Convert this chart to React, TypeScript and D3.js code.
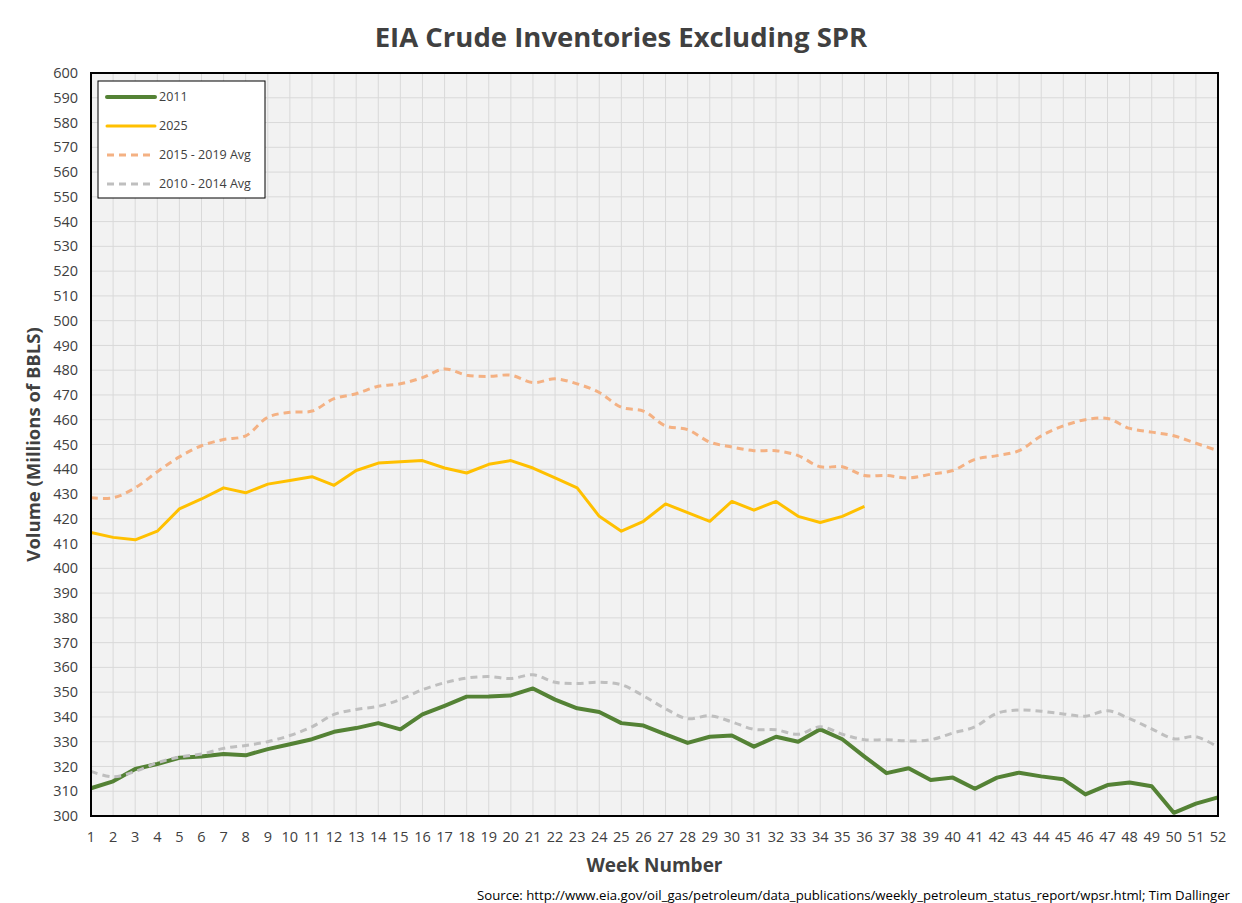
import React from "react";
import * as d3 from "d3";

const weeks = d3.range(1, 53);

const y2011 = [
  311.2, 314, 319, 321, 323.5, 324, 325, 324.5, 327, 329, 331, 334, 335.5, 337.5, 335, 341,
  344.5, 348.2, 348.3, 348.7, 351.5, 347, 343.5, 342, 337.5, 336.5, 333, 329.5, 332, 332.5,
  328, 332, 330, 335, 331, 324, 317.3, 319.3, 314.5, 315.5, 311, 315.5, 317.5, 316, 314.8,
  308.7, 312.5, 313.5, 312, 301.3, 305, 307.5,
];

const y2025 = [
  414.5, 412.5, 411.5, 415, 424, 428, 432.5, 430.5, 434, 435.5, 437, 433.5, 439.5, 442.5,
  443, 443.5, 440.5, 438.5, 442, 443.5, 440.5, 436.5, 432.5, 421, 415, 419, 426, 422.5, 419,
  427, 423.5, 427, 421, 418.5, 421, 425,
];

const avg1519 = [
  428.5, 428.5, 432.5, 439, 445, 449.5, 452, 453.5, 461, 463, 463.5, 468.5, 470.5, 473.5,
  474.5, 477, 480.5, 478, 477.5, 478, 475, 476.5, 474.5, 471, 465, 463.5, 457.5, 456, 451,
  449, 447.5, 447.5, 445.5, 441, 441, 437.5, 437.5, 436.5, 438, 439.5, 444, 445.5, 447.5,
  453.5, 457.5, 460, 460.5, 456.5, 455, 453.5, 450.5, 447.5,
];

const avg1014 = [
  318, 315.8, 318, 321.5, 323.8, 325, 327.3, 328.5, 330, 332.5, 336, 341, 343, 344.3, 347,
  351, 353.8, 355.7, 356.3, 355.5, 357, 354, 353.5, 354, 353, 348.5, 343.3, 339.3, 340.5,
  338, 335, 334.8, 333, 336, 333, 330.8, 330.8, 330.3, 330.8, 333.5, 336, 341.5, 342.8,
  342.3, 341.2, 340.3, 342.5, 339.3, 335.2, 331.2, 332, 327.8,
];

const yTicks = d3.range(300, 601, 10);

const series = [
  { name: "2011", data: y2011, color: "#548235", width: 4, dash: "", smooth: false },
  { name: "2025", data: y2025, color: "#ffc000", width: 3, dash: "", smooth: false },
  { name: "2015 - 2019 Avg", data: avg1519, color: "#f4b183", width: 3, dash: "7,5", smooth: true },
  { name: "2010 - 2014 Avg", data: avg1014, color: "#bfbfbf", width: 3, dash: "7,5", smooth: true },
];

const W = 1242;
const H = 903;
const margin = { left: 91, right: 24, top: 73, bottom: 87 };
const font = "'Open Sans', 'Liberation Sans', sans-serif";
const textColor = "#404040";

export default function App() {
  const x = d3.scaleLinear().domain([1, 52]).range([margin.left, W - margin.right]);
  const y = d3.scaleLinear().domain([300, 600]).range([H - margin.bottom, margin.top]);

  const makeLine = (smooth: boolean) =>
    d3
      .line<number>()
      .x((_, i) => x(weeks[i]))
      .y((d) => y(d))
      .curve(smooth ? d3.curveCatmullRom.alpha(0.5) : d3.curveLinear);

  return (
    <svg
      width={W}
      height={H}
      style={{ position: "absolute", left: 0, top: 0, background: "#fff" }}
    >
      <text
        x={W / 2}
        y={47}
        textAnchor="middle"
        fontFamily={font}
        fontWeight="bold"
        fontSize={27.5}
        fill={textColor}
      >
        EIA Crude Inventories Excluding SPR
      </text>

      {/* plot area */}
      <rect
        x={margin.left}
        y={margin.top}
        width={W - margin.left - margin.right}
        height={H - margin.top - margin.bottom}
        fill="#f2f2f2"
      />
      {weeks.map((w) => (
        <line
          key={"vx" + w}
          x1={x(w)}
          x2={x(w)}
          y1={margin.top}
          y2={H - margin.bottom}
          stroke="#d9d9d9"
          strokeWidth={1}
        />
      ))}
      {yTicks.map((t) => (
        <line
          key={"hy" + t}
          x1={margin.left}
          x2={W - margin.right}
          y1={y(t)}
          y2={y(t)}
          stroke="#d9d9d9"
          strokeWidth={1}
        />
      ))}

      {series.map((s) => (
        <path
          key={s.name}
          d={makeLine(s.smooth)(s.data) || ""}
          fill="none"
          stroke={s.color}
          strokeWidth={s.width}
          strokeDasharray={s.dash || undefined}
          strokeLinejoin="round"
        />
      ))}

      <rect
        x={margin.left}
        y={margin.top}
        width={W - margin.left - margin.right}
        height={H - margin.top - margin.bottom}
        fill="none"
        stroke="#000"
        strokeWidth={2}
      />

      {/* y ticks */}
      {yTicks.map((t) => (
        <text
          key={"yl" + t}
          x={margin.left - 13}
          y={y(t)}
          dy="0.35em"
          textAnchor="end"
          fontFamily={font}
          fontSize={14.5}
          fill={textColor}
        >
          {t}
        </text>
      ))}
      {/* x ticks */}
      {weeks.map((w) => (
        <text
          key={"xl" + w}
          x={x(w)}
          y={H - margin.bottom + 26}
          textAnchor="middle"
          fontFamily={font}
          fontSize={14.5}
          fill={textColor}
        >
          {w}
        </text>
      ))}

      <text
        x={(margin.left + W - margin.right) / 2}
        y={872}
        textAnchor="middle"
        fontFamily={font}
        fontWeight="bold"
        fontSize={19}
        fill={textColor}
      >
        Week Number
      </text>
      <text
        transform={`translate(40,${(margin.top + H - margin.bottom) / 2}) rotate(-90)`}
        textAnchor="middle"
        fontFamily={font}
        fontWeight="bold"
        fontSize={18.5}
        fill={textColor}
      >
        Volume (Millions of BBLS)
      </text>
      <text
        x={1230}
        y={900}
        textAnchor="end"
        fontFamily={font}
        fontSize={13.2}
        fill="#000"
      >
        Source: http://www.eia.gov/oil_gas/petroleum/data_publications/weekly_petroleum_status_report/wpsr.html; Tim Dallinger
      </text>

      {/* legend */}
      <g>
        <rect x={98} y={81} width={167} height={117} fill="#fff" stroke="#000" strokeWidth={1} />
        {series.map((s, i) => (
          <g key={"lg" + s.name} transform={`translate(0,${97 + i * 29})`}>
            <line
              x1={107}
              x2={155}
              y1={0}
              y2={0}
              stroke={s.color}
              strokeWidth={s.width}
              strokeDasharray={s.dash || undefined}
              strokeLinecap={s.dash ? "butt" : "round"}
            />
            <text x={159} y={0} dy="0.35em" fontFamily={font} fontSize={12.5} fill={textColor}>
              {s.name}
            </text>
          </g>
        ))}
      </g>
    </svg>
  );
}
